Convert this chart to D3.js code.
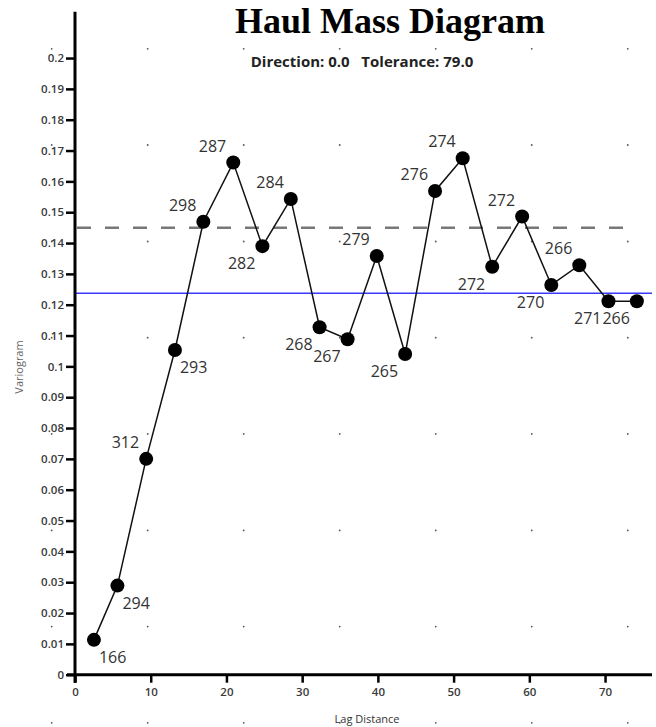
<!DOCTYPE html>
<html>
<head>
<meta charset="utf-8">
<script src="https://cdn.jsdelivr.net/npm/d3@7"></script>
<style>
  html, body { margin: 0; padding: 0; background: #fff; }
  svg { display: block; }
</style>
</head>
<body>
<svg id="chart" width="656" height="727"></svg>
<script>
// ---- Data ----
const lagDistance = [2.5, 5.6, 9.4, 13.2, 16.95, 20.9, 24.75, 28.5, 32.3, 36.0, 39.85, 43.6, 47.55, 51.2, 55.1, 59.05, 62.9, 66.6, 70.45, 74.2];
const variogram   = [0.0113, 0.0289, 0.0700, 0.1053, 0.1469, 0.1661, 0.1390, 0.1543, 0.1127, 0.1088, 0.1358, 0.1040, 0.1569, 0.1675, 0.1323, 0.1486, 0.1264, 0.1328, 0.1211, 0.1211];
const pairCounts  = ["166", "294", "312", "293", "298", "287", "282", "284", "268", "267", "279", "265", "276", "274", "272", "272", "270", "266", "271", "266"];
const labelPlacement = ["br", "br", "al", "br", "al", "al", "bl", "al", "bl", "bl", "al", "bl", "al", "al", "bl", "al", "bl", "al", "bl", "bl"];
const sillDashed = 0.145;   // dashed grey line
const sillBlue   = 0.1237;  // blue line
const yTickLabels = ["0", "0.01", "0.02", "0.03", "0.04", "0.05", "0.06", "0.07", "0.08", "0.09", "0.1",
                     "0.11", "0.12", "0.13", "0.14", "0.15", "0.16", "0.17", "0.18", "0.19", "0.2"];
const xTickLabels = ["0", "10", "20", "30", "40", "50", "60", "70"];
const gridDotX = [-3.08, 9.6, 22.28, 34.96, 47.64, 60.32, 73.0];
const gridDotY = [0.2030, 0.1718, 0.1405, 0.1093, 0.0781, 0.0468, 0.0156, -0.0156];
const titleText = "Haul Mass Diagram";
const subtitleText = "Direction: 0.0   Tolerance: 79.0";
const xTitle = "Lag Distance";
const yTitle = "Variogram";

// ---- Layout ----
const svg = d3.select("#chart");
const x = d3.scaleLinear().domain([0, 76.2]).range([75, 652]);
const y = d3.scaleLinear().domain([0, 0.215]).range([674.7, 11.8]);

// background dot grid
const dots = svg.append("g");
gridDotY.forEach(gy => {
  gridDotX.forEach(gx => {
    dots.append("circle").attr("cx", x(gx)).attr("cy", y(gy)).attr("r", 0.9).attr("fill", "#555");
  });
});

// title
svg.append("text")
  .attr("x", 390).attr("y", 33)
  .attr("text-anchor", "middle")
  .attr("font-family", "'Liberation Serif', 'Times New Roman', serif")
  .attr("font-weight", "bold")
  .attr("font-size", 36)
  .attr("fill", "#000")
  .text(titleText);

svg.append("text")
  .attr("x", 362).attr("y", 67)
  .attr("text-anchor", "middle")
  .attr("font-family", "'Open Sans', sans-serif")
  .attr("font-weight", "bold")
  .attr("font-size", 15)
  .attr("fill", "#222")
  .style("white-space", "pre")
  .text(subtitleText);

// reference lines
svg.append("line")
  .attr("x1", x(0)).attr("x2", x(lagDistance[lagDistance.length - 1]))
  .attr("y1", y(sillDashed)).attr("y2", y(sillDashed))
  .attr("stroke", "#777").attr("stroke-width", 2.5)
  .attr("stroke-dasharray", "14,14").attr("stroke-dashoffset", -2);

svg.append("line")
  .attr("x1", x(0)).attr("x2", x(76.2))
  .attr("y1", y(sillBlue)).attr("y2", y(sillBlue))
  .attr("stroke", "#3a3aff").attr("stroke-width", 1.6);

// axes
const yAxis = d3.axisLeft(y)
  .tickValues(yTickLabels.map(Number))
  .tickFormat((d, i) => yTickLabels[i])
  .tickSize(9).tickPadding(2);
const gy = svg.append("g").attr("transform", `translate(${x(0)},0)`).call(yAxis);
gy.select(".domain").attr("d", `M0,${y(0) + 8}V${y(0.215)}`).attr("stroke", "#000").attr("stroke-width", 3);
gy.selectAll(".tick line").attr("stroke", "#000").attr("stroke-width", 2.5);
gy.selectAll(".tick text")
  .attr("font-family", "'Open Sans', sans-serif")
  .attr("font-size", 11.5).attr("font-weight", 600).attr("fill", "#3a3a3a");

const xAxis = d3.axisBottom(x)
  .tickValues(xTickLabels.map(Number))
  .tickFormat((d, i) => xTickLabels[i])
  .tickSize(8).tickPadding(5);
const gx = svg.append("g").attr("transform", `translate(0,${y(0)})`).call(xAxis);
gx.select(".domain").attr("d", `M${x(0) - 8},0H${x(76.2)}`).attr("stroke", "#000").attr("stroke-width", 3);
gx.selectAll(".tick line").attr("stroke", "#000").attr("stroke-width", 2.5);
gx.selectAll(".tick text")
  .attr("font-family", "'Open Sans', sans-serif")
  .attr("font-size", 11.5).attr("font-weight", 600).attr("fill", "#3a3a3a");

// axis titles
svg.append("text")
  .attr("x", 367).attr("y", 723)
  .attr("text-anchor", "middle")
  .attr("font-family", "'Open Sans', sans-serif")
  .attr("font-size", 11).attr("fill", "#333")
  .text(xTitle);

svg.append("text")
  .attr("transform", `translate(23,${367}) rotate(-90)`)
  .attr("text-anchor", "middle")
  .attr("font-family", "'Open Sans', sans-serif")
  .attr("font-size", 11).attr("fill", "#666")
  .text(yTitle);

// series
const pts = lagDistance.map((d, i) => ({ x: d, y: variogram[i], label: pairCounts[i], pos: labelPlacement[i] }));
svg.append("path")
  .datum(pts)
  .attr("fill", "none").attr("stroke", "#111").attr("stroke-width", 1.5)
  .attr("d", d3.line().x(d => x(d.x)).y(d => y(d.y)));

svg.append("g").selectAll("circle")
  .data(pts).join("circle")
  .attr("cx", d => x(d.x)).attr("cy", d => y(d.y)).attr("r", 7)
  .attr("fill", "#000");

const off = { br: [5, 23, "start"], bl: [-7, 23, "end"], al: [-7, -11, "end"] };
svg.append("g").selectAll("text")
  .data(pts).join("text")
  .attr("x", d => x(d.x) + off[d.pos][0])
  .attr("y", d => y(d.y) + off[d.pos][1])
  .attr("text-anchor", d => off[d.pos][2])
  .attr("font-family", "'Open Sans', sans-serif")
  .attr("font-size", 16).attr("fill", "#333")
  .text(d => d.label);
</script>
</body>
</html>
